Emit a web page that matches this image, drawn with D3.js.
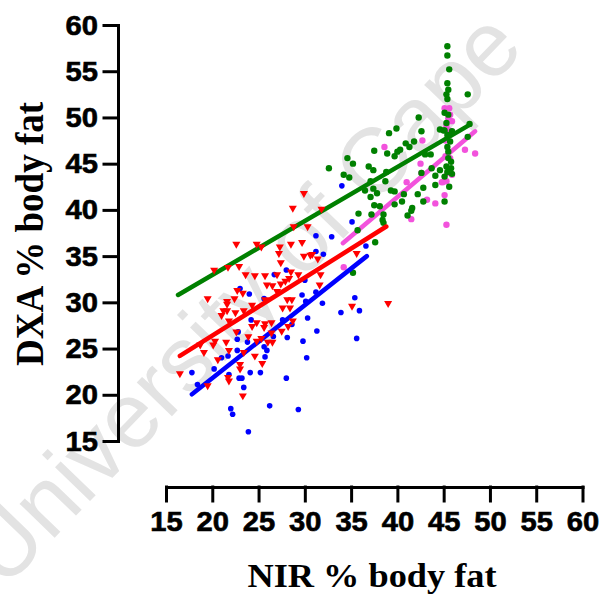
<!DOCTYPE html>
<html>
<head>
<meta charset="utf-8">
<script src="https://cdn.jsdelivr.net/npm/d3@7"></script>
<style>
  body { margin: 0; background: #fff; }
  svg { display: block; }
</style>
</head>
<body>
<svg id="chart" width="602" height="595"></svg>
<script>
// NIR (x) vs DXA (y) percentage body fat, four groups with fitted lines
const xTicks = [15, 20, 25, 30, 35, 40, 45, 50, 55, 60];
const yTicks = [15, 20, 25, 30, 35, 40, 45, 50, 55, 60];

const bluePoints = [
  [34.0,42.6],[35.1,38.7],[31.2,37.2],[32.9,37.1],[36.6,36.1],[31.2,35.5],[32.0,35.2],
  [26.7,33.0],[28.0,33.5],[30.0,32.4],[23.0,31.5],[24.0,30.9],[25.6,30.4],[29.7,30.8],
  [31.2,31.1],[31.9,29.9],[30.1,30.1],[33.9,28.9],[35.4,30.5],[35.9,29.1],[35.6,26.1],
  [31.3,26.9],[30.3,28.3],[27.6,28.1],[24.2,28.1],[28.6,27.6],[22.8,26.8],[28.1,26.2],
  [29.8,25.8],[22.7,26.0],[23.8,25.7],[26.6,26.3],[25.6,25.2],[25.9,24.8],[22.7,24.8],
  [25.7,24.1],[21.0,24.0],[21.7,24.2],[30.2,24.0],[20.2,22.8],[17.8,22.4],[21.8,22.2],
  [24.1,22.4],[25.2,22.4],[22.9,21.8],[23.2,21.8],[18.4,21.1],[23.4,20.8],[28.0,21.8],
  [22.0,18.5],[22.2,17.9],[26.2,18.8],[29.3,18.4],[23.9,16.0]
];

const redPoints = [
  [29.9,41.8],[28.7,40.2],[31.8,40.1],[28.8,38.2],[30.3,38.2],[22.6,36.3],[24.8,36.3],
  [25.3,36.0],[27.3,36.0],[28.5,36.3],[29.7,36.5],[27.2,35.3],[29.9,35.0],[30.6,35.1],
  [30.8,35.2],[31.4,34.7],[27.4,34.3],[35.6,35.3],[20.2,33.5],[21.7,33.8],[22.9,33.9],
  [23.6,33.0],[24.6,32.9],[25.7,32.9],[27.0,33.0],[28.5,33.3],[29.3,33.0],[31.7,33.0],
  [25.9,31.9],[26.5,31.8],[27.4,32.0],[27.9,32.3],[28.3,32.6],[31.6,31.9],[22.7,31.3],
  [23.3,31.0],[27.0,31.2],[19.5,30.4],[21.6,30.1],[22.4,30.4],[28.1,30.3],[28.6,30.3],
  [25.7,30.3],[21.6,29.8],[21.2,29.1],[21.6,29.1],[21.0,28.6],[22.5,28.9],[23.4,29.1],
  [24.3,29.7],[27.6,29.4],[28.4,29.4],[39.0,29.9],[35.1,29.6],[21.8,28.0],[24.8,27.8],
  [25.7,27.7],[26.4,27.8],[24.3,27.4],[25.6,27.3],[28.7,28.0],[28.2,27.4],[22.6,26.8],
  [23.9,26.3],[24.8,25.8],[26.4,26.7],[27.5,26.9],[25.3,26.1],[26.5,25.7],[26.0,25.7],
  [20.3,25.8],[21.5,25.7],[18.7,25.4],[20.1,25.4],[19.1,24.6],[21.8,24.8],[23.4,24.6],
  [24.6,24.2],[20.6,23.8],[23.0,22.8],[23.0,23.3],[25.4,23.4],[21.7,21.9],[21.8,21.5],
  [16.5,22.3],[19.5,21.0],[23.3,19.9]
];

const greenPoints = [
  [45.4,57.7],[45.4,56.7],[45.6,55.2],[45.4,53.7],[45.5,53.0],[45.3,52.5],[45.4,52.0],
  [47.6,52.5],[45.1,50.5],[45.5,50.3],[45.3,49.4],[45.1,48.6],[45.9,48.5],[44.6,48.7],
  [45.0,48.6],[45.4,48.1],[47.8,49.3],[47.6,47.9],[42.3,50.0],[42.6,48.5],[39.9,48.8],
  [39.1,48.3],[40.9,47.2],[41.8,47.4],[40.3,46.5],[40.0,46.3],[37.5,46.4],[38.9,46.1],
  [39.7,45.8],[41.3,46.8],[43.0,46.0],[43.6,46.0],[34.6,45.6],[35.2,45.0],[32.6,44.5],
  [36.9,44.7],[37.4,44.3],[34.2,43.8],[34.8,43.5],[38.8,44.1],[42.6,44.0],[43.7,44.5],
  [44.1,43.7],[44.6,44.3],[45.7,47.4],[45.4,46.8],[45.5,46.3],[45.5,45.6],[45.8,45.2],
  [45.3,44.7],[45.8,44.5],[45.4,44.1],[45.9,43.9],[45.1,43.6],[37.1,43.1],[38.7,43.1],
  [37.4,42.3],[36.5,42.1],[37.8,41.8],[39.3,42.1],[39.7,42.0],[40.7,41.7],[42.2,41.7],
  [42.8,42.4],[44.1,42.7],[37.1,41.4],[37.5,40.5],[38.1,40.4],[39.7,40.6],[40.5,40.9],
  [42.8,40.9],[45.1,40.9],[45.6,42.5],[41.6,40.2],[41.5,39.9],[41.1,39.4],[35.8,39.6],
  [37.2,39.5],[38.5,39.5],[38.4,38.9],[38.5,38.6],[35.7,37.8],[37.6,36.5],[35.2,33.2]
];

const pinkPoints = [
  [38.6,46.8],[42.7,47.5],[45.1,51.0],[45.6,51.0],[45.7,50.3],[45.9,49.6],[45.3,49.1],
  [45.5,49.9],[47.3,46.5],[48.4,46.1],[42.5,45.0],[41.0,43.0],[44.8,43.0],[45.9,43.8],
  [45.1,41.6],[43.2,41.1],[44.1,40.7],[41.5,39.0],[45.3,38.4],[34.2,33.8],[45.2,45.8],
  [45.7,45.6],[45.4,44.0],[45.3,43.1],[44.9,43.0],[42.6,44.0],[45.6,48.6],[45.2,47.5]
];

// fitted regression segments: [start, end] in data units
const blueFit  = [[17.8, 20.05], [36.7, 35.0]];
const redFit   = [[16.5, 24.2],  [38.8, 38.2]];
const greenFit = [[16.3, 30.8],  [47.8, 49.2]];
const pinkFit  = [[34.1, 36.4],  [48.4, 48.5]];

const svg = d3.select("#chart");

// faint background wordmark
svg.append("text")
  .attr("transform", "translate(4,590) rotate(-46)")
  .attr("font-family", "'Liberation Sans', Arial, sans-serif")
  .attr("font-size", 92)
  .attr("fill", "#e3e3e3")
  .text("University of Cape");

const x = d3.scaleLinear().domain([15, 60]).range([166, 582.5]);
const y = d3.scaleLinear().domain([15, 60]).range([441, 25]);

const axisX = 487, axisY = 118;
const tickFont = "'Liberation Sans', Arial, Helvetica, sans-serif";
const titleFont = "'Liberation Serif', 'Times New Roman', serif";

function styleAxis(g) {
  g.attr("font-family", tickFont).attr("font-size", 27).attr("font-weight", "bold");
  g.select(".domain").attr("stroke", "#000").attr("stroke-width", 3).attr("stroke-linecap", "square");
  g.selectAll(".tick line").attr("stroke", "#000").attr("stroke-width", 3).attr("stroke-linecap", "square");
  g.selectAll(".tick text")
    .attr("fill", "#000").attr("stroke", "#000").attr("stroke-width", 0.6)
    .attr("transform", "scale(1.08,1)");
}

// x axis
const gx = svg.append("g")
  .attr("transform", `translate(0,${axisX})`)
  .call(d3.axisBottom(x).tickValues(xTicks).tickSize(14).tickSizeOuter(0).tickPadding(0));
styleAxis(gx);
gx.selectAll(".tick text").attr("y", 44).attr("dy", null);

// y axis
const gy = svg.append("g")
  .attr("transform", `translate(${axisY},0)`)
  .call(d3.axisLeft(y).tickValues(yTicks).tickSize(14).tickSizeOuter(0).tickPadding(0));
styleAxis(gy);
gy.selectAll(".tick text").attr("x", -18.5).attr("y", 9).attr("dy", null);

// axis titles
svg.append("text")
  .attr("transform", "translate(372,587) scale(1.1,1)")
  .attr("text-anchor", "middle")
  .attr("font-family", titleFont).attr("font-weight", "bold")
  .attr("font-size", 33).attr("fill", "#000")
  .text("NIR % body fat");

svg.append("text")
  .attr("transform", "translate(43,234) scale(1.1,1) rotate(-90)")
  .attr("text-anchor", "middle")
  .attr("font-family", titleFont).attr("font-weight", "bold")
  .attr("font-size", 37).attr("fill", "#000")
  .text("DXA % body fat");

// marks
const plot = svg.append("g");
const line = d3.line().x(d => x(d[0])).y(d => y(d[1]));

function dots(data, color, r) {
  plot.append("g").selectAll("circle").data(data).join("circle")
    .attr("cx", d => x(d[0])).attr("cy", d => y(d[1]))
    .attr("r", r).attr("fill", color);
}
function fit(seg, color) {
  plot.append("path").datum(seg)
    .attr("d", line).attr("fill", "none")
    .attr("stroke", color).attr("stroke-width", 4.5).attr("stroke-linecap", "round");
}

const pink = "#f252dc", green = "#008000", blue = "#0000ff", red = "#ff0000";

dots(pinkPoints, pink, 3.2);
fit(pinkFit, pink);
dots(greenPoints, green, 3.2);
fit(greenFit, green);
dots(bluePoints, blue, 2.8);
fit(blueFit, blue);

const tri = d3.symbol().type(d3.symbolTriangle).size(28);
plot.append("g").selectAll("path").data(redPoints).join("path")
  .attr("d", tri)
  .attr("transform", d => `translate(${x(d[0])},${y(d[1])}) rotate(180)`)
  .attr("fill", red);
fit(redFit, red);
</script>
</body>
</html>
